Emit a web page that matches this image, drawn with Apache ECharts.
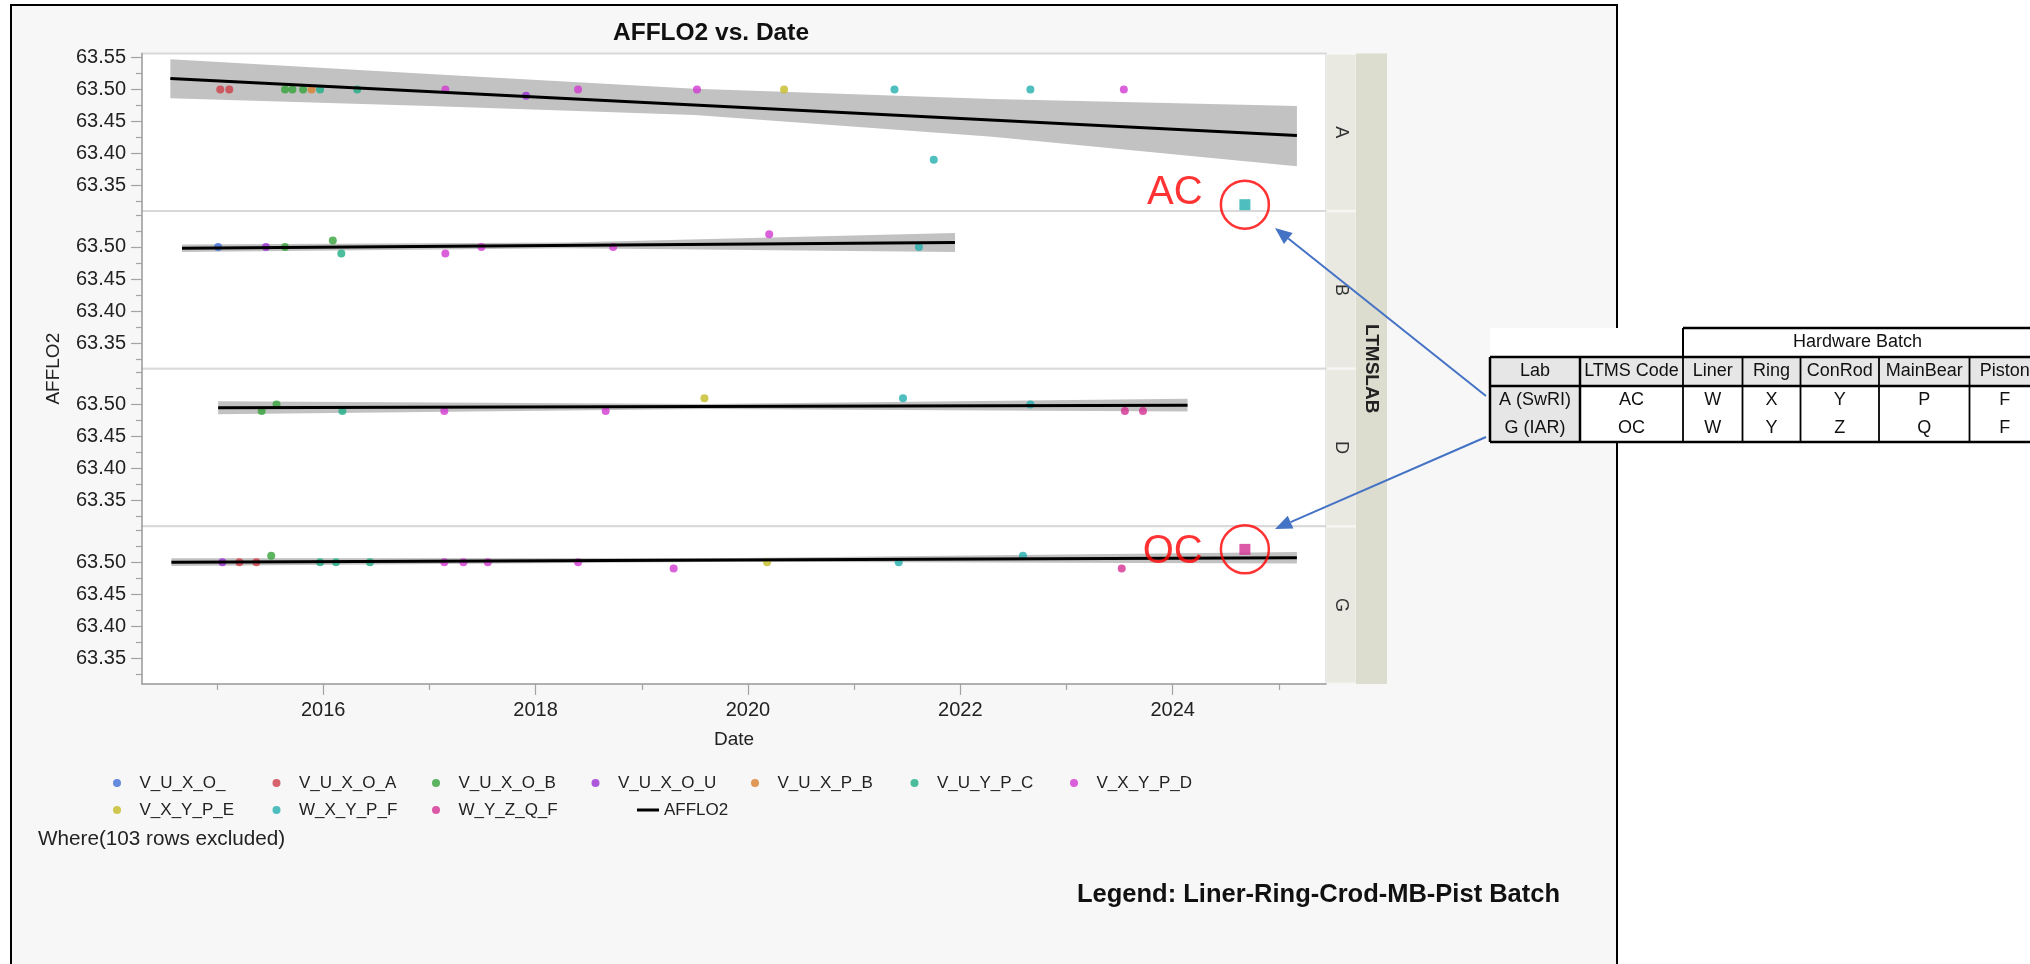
<!DOCTYPE html>
<html>
<head>
<meta charset="utf-8">
<title>AFFLO2 vs. Date</title>
<script src="https://cdn.jsdelivr.net/npm/echarts@6.0.0/dist/echarts.min.js"></script>
<style>
  html, body { margin: 0; padding: 0; background: #fff; }
  #chart { width: 2030px; height: 964px; }
</style>
</head>
<body>
<div id="chart"></div>
<script>
// ---- values ----
const labs = ['A', 'B', 'D', 'G'];
const batches = ['V_U_X_O_', 'V_U_X_O_A', 'V_U_X_O_B', 'V_U_X_O_U', 'V_U_X_P_B',
  'V_U_Y_P_C', 'V_X_Y_P_D', 'V_X_Y_P_E', 'W_X_Y_P_F', 'W_Y_Z_Q_F'];
const yearTicks = [2016, 2018, 2020, 2022, 2024];
const yearMinorTicks = [2015, 2017, 2019, 2021, 2023, 2025];
const valueTicks = [63.35, 63.40, 63.45, 63.50];
const valueTicksTop = [63.35, 63.40, 63.45, 63.50, 63.55];
const valueMinorTicks = [63.325, 63.375, 63.425, 63.475, 63.525, 63.55];

// [batch, date (decimal year), AFFLO2]
const pointsA = [
  ['V_U_X_O_A', 2015.03, 63.50], ['V_U_X_O_A', 2015.115, 63.50],
  ['V_U_X_O_B', 2015.64, 63.50], ['V_U_X_O_B', 2015.71, 63.50], ['V_U_X_O_B', 2015.81, 63.50],
  ['V_U_X_P_B', 2015.89, 63.50],
  ['V_U_Y_P_C', 2015.97, 63.50], ['V_U_Y_P_C', 2016.32, 63.50],
  ['V_X_Y_P_D', 2017.15, 63.50], ['V_U_X_O_U', 2017.91, 63.49], ['V_X_Y_P_D', 2018.40, 63.50],
  ['V_X_Y_P_D', 2019.52, 63.50], ['V_X_Y_P_E', 2020.34, 63.50],
  ['W_X_Y_P_F', 2021.38, 63.50], ['W_X_Y_P_F', 2021.75, 63.39], ['W_X_Y_P_F', 2022.66, 63.50],
  ['V_X_Y_P_D', 2023.54, 63.50]
];
const pointsB = [
  ['V_U_X_O_', 2015.01, 63.50], ['V_U_X_O_U', 2015.46, 63.50],
  ['V_U_X_O_B', 2015.64, 63.50], ['V_U_X_O_B', 2016.09, 63.51],
  ['V_U_Y_P_C', 2016.17, 63.49],
  ['V_X_Y_P_D', 2017.15, 63.49], ['V_X_Y_P_D', 2017.49, 63.50], ['V_X_Y_P_D', 2018.73, 63.50],
  ['V_X_Y_P_D', 2020.20, 63.52], ['W_X_Y_P_F', 2021.61, 63.50]
];
const pointsD = [
  ['V_U_X_O_B', 2015.42, 63.49], ['V_U_X_O_B', 2015.56, 63.50],
  ['V_U_Y_P_C', 2016.18, 63.49],
  ['V_X_Y_P_D', 2017.14, 63.49], ['V_X_Y_P_D', 2018.66, 63.49],
  ['V_X_Y_P_E', 2019.59, 63.51],
  ['W_X_Y_P_F', 2021.46, 63.51], ['W_X_Y_P_F', 2022.66, 63.50],
  ['W_Y_Z_Q_F', 2023.55, 63.49], ['W_Y_Z_Q_F', 2023.72, 63.49]
];
const pointsG = [
  ['V_U_X_O_U', 2015.05, 63.50], ['V_U_X_O_A', 2015.21, 63.50], ['V_U_X_O_A', 2015.37, 63.50],
  ['V_U_X_O_B', 2015.51, 63.51],
  ['V_U_Y_P_C', 2015.97, 63.50], ['V_U_Y_P_C', 2016.12, 63.50], ['V_U_Y_P_C', 2016.44, 63.50],
  ['V_X_Y_P_D', 2017.14, 63.50], ['V_X_Y_P_D', 2017.32, 63.50], ['V_X_Y_P_D', 2017.55, 63.50],
  ['V_X_Y_P_D', 2018.40, 63.50], ['V_X_Y_P_D', 2019.30, 63.49],
  ['V_X_Y_P_E', 2020.18, 63.50],
  ['W_X_Y_P_F', 2021.42, 63.50], ['W_X_Y_P_F', 2022.59, 63.51],
  ['W_Y_Z_Q_F', 2023.52, 63.49]
];

// fitted AFFLO2 line per lab: [date, value]
const fitA = [[2014.56, 63.517], [2025.17, 63.428]];
const fitB = [[2014.67, 63.498], [2021.95, 63.507]];
const fitD = [[2015.01, 63.495], [2024.14, 63.499]];
const fitG = [[2014.57, 63.500], [2025.17, 63.507]];

// confidence band: [date, lower, upper]
const bandA = [[2014.56, 63.486, 63.547], [2017.0, 63.474, 63.524], [2019.5, 63.460, 63.501],
  [2022.3, 63.426, 63.485], [2025.17, 63.380, 63.474]];
const bandB = [[2014.67, 63.492, 63.504], [2018.3, 63.498, 63.507], [2021.95, 63.492, 63.522]];
const bandD = [[2015.01, 63.485, 63.505], [2019.6, 63.493, 63.501], [2024.14, 63.489, 63.509]];
const bandG = [[2014.57, 63.494, 63.506], [2019.9, 63.5005, 63.5065], [2025.17, 63.498, 63.516]];

// flagged new tests: [lab index, batch, date, value, LTMS code]
const flagged = [
  [0, 'W_X_Y_P_F', 2024.68, 63.32, 'AC'],
  [3, 'W_Y_Z_Q_F', 2024.68, 63.52, 'OC']
];

const tableHeader = ['Lab', 'LTMS Code', 'Liner', 'Ring', 'ConRod', 'MainBear', 'Piston'];
const tableRows = [
  ['A (SwRI)', 'AC', 'W', 'X', 'Y', 'P', 'F'],
  ['G (IAR)', 'OC', 'W', 'Y', 'Z', 'Q', 'F']
];

// ---- styles and layout ----
const batchColors = {
  'V_U_X_O_': '#3f6fd8', 'V_U_X_O_A': '#cf3f47', 'V_U_X_O_B': '#34a23b', 'V_U_X_O_U': '#9a2fd4',
  'V_U_X_P_B': '#d8802c', 'V_U_Y_P_C': '#1fae86', 'V_X_Y_P_D': '#d23ad2', 'V_X_Y_P_E': '#c4bb25',
  'W_X_Y_P_F': '#22aeae', 'W_Y_Z_Q_F': '#d32f92'
};
const FONT = "'Liberation Sans', Arial, sans-serif";
const plotLeft = 142, plotWidth = 1184, plotTop = 53.5, panelH = 157.6;
const dateMin = 2014.293, dateMax = 2025.444;
const valueMin = 63.31, valueMax = 63.556;

const panels = [pointsA, pointsB, pointsD, pointsG];
const fits = [fitA, fitB, fitD, fitG];
const bands = [bandA, bandB, bandD, bandG];

const grids = [], xAxes = [], yAxes = [], series = [];
labs.forEach((lab, i) => {
  const bottom = i === labs.length - 1;
  grids.push({
    left: plotLeft, width: plotWidth, top: plotTop + i * panelH, height: panelH,
    show: true, backgroundColor: '#fff', borderColor: '#d9d9d9', borderWidth: 2
  });
  xAxes.push({
    gridIndex: i, type: 'value', position: 'bottom', min: dateMin, max: dateMax,
    splitLine: { show: false },
    axisLine: { show: bottom, lineStyle: { color: '#a3a3a3', width: 1.5 } },
    axisTick: { show: bottom, length: 11, customValues: yearTicks, lineStyle: { color: '#a3a3a3', width: 1.2 } },
    axisLabel: {
      show: bottom, customValues: yearTicks, margin: 17, fontSize: 20, fontFamily: FONT, color: '#222',
      formatter: v => String(Math.round(v))
    }
  });
  const majors = i === 0 ? valueTicksTop : valueTicks;
  yAxes.push({
    gridIndex: i, type: 'value', position: 'left', min: valueMin, max: valueMax,
    splitLine: { show: false },
    axisLine: { show: true, lineStyle: { color: '#a3a3a3', width: 1.5 } },
    axisTick: { show: true, length: 11, customValues: majors, lineStyle: { color: '#a3a3a3', width: 1.2 } },
    axisLabel: {
      show: true, customValues: majors, margin: 16, fontSize: 20, fontFamily: FONT, color: '#222',
      formatter: v => v.toFixed(2)
    }
  });
});
// minor ticks
xAxes.push({
  gridIndex: 3, type: 'value', position: 'bottom', min: dateMin, max: dateMax,
  splitLine: { show: false }, axisLine: { show: false }, axisLabel: { show: false },
  axisTick: { show: true, length: 6, customValues: yearMinorTicks, lineStyle: { color: '#a3a3a3', width: 1.2 } }
});
labs.forEach((lab, i) => {
  yAxes.push({
    gridIndex: i, type: 'value', position: 'left', min: valueMin, max: valueMax,
    splitLine: { show: false }, axisLine: { show: false }, axisLabel: { show: false },
    axisTick: {
      show: true, length: 6, lineStyle: { color: '#a3a3a3', width: 1.2 },
      customValues: i === 0 ? valueMinorTicks.filter(v => v !== 63.55) : valueMinorTicks
    }
  });
});

panels.forEach((pts, i) => {
  const band = bands[i];
  series.push({
    type: 'custom', name: 'band', xAxisIndex: i, yAxisIndex: i, silent: true, z: 1,
    data: band,
    renderItem: function (params, api) {
      if (params.dataIndex !== 0) return null;
      const upper = band.map(b => api.coord([b[0], b[2]]));
      const lower = band.map(b => api.coord([b[0], b[1]])).reverse();
      return { type: 'polygon', shape: { points: upper.concat(lower) }, style: { fill: '#c2c2c2' } };
    }
  });
  batches.forEach(b => {
    const d = pts.filter(p => p[0] === b).map(p => [p[1], p[2]]);
    if (!d.length) return;
    series.push({
      type: 'scatter', name: b, xAxisIndex: i, yAxisIndex: i, data: d, symbolSize: 8,
      itemStyle: { color: batchColors[b] }, z: 2, emphasis: { disabled: true }
    });
  });
  series.push({
    type: 'line', name: 'AFFLO2', xAxisIndex: i, yAxisIndex: i, data: fits[i],
    symbol: 'none', showSymbol: false, silent: true, z: 3,
    lineStyle: { color: '#000', width: 3 }, itemStyle: { color: '#000' }
  });
});

flagged.forEach(f => {
  series.push({
    type: 'scatter', name: f[1], xAxisIndex: f[0], yAxisIndex: f[0], data: [[f[2], f[3]]],
    symbol: 'rect', symbolSize: 11, itemStyle: { color: batchColors[f[1]] }, z: 4,
    emphasis: { disabled: true }
  });
  series.push({
    type: 'scatter', name: 'flag', xAxisIndex: f[0], yAxisIndex: f[0], data: [[f[2], f[3]]],
    symbol: 'circle', symbolSize: 48, silent: true, z: 5,
    itemStyle: { color: 'rgba(0,0,0,0)', borderColor: '#ff0000', borderWidth: 2.5 },
    label: {
      show: true, position: 'left', distance: 17, formatter: f[4], color: '#ff0000',
      fontSize: 40, fontFamily: FONT, offset: [0, f[4] === 'AC' ? -12 : 3]
    }
  });
});

// ---- graphic: frame, titles, strips, table, arrows ----
const g = [];
g.push({ type: 'rect', z: -10, shape: { x: 11, y: 5, width: 1606, height: 975 },
  style: { fill: '#f7f7f7', stroke: '#000', lineWidth: 2 } });
g.push({ type: 'text', x: 711, y: 33, z: 10, style: { text: 'AFFLO2 vs. Date', fontSize: 24.5,
  fontWeight: 'bold', fontFamily: FONT, fill: '#111', align: 'center', verticalAlign: 'middle' } });
g.push({ type: 'text', x: 734, y: 740, z: 10, style: { text: 'Date', fontSize: 19, fontFamily: FONT,
  fill: '#222', align: 'center', verticalAlign: 'middle' } });
g.push({ type: 'text', x: 54, y: plotTop + panelH * 2, rotation: Math.PI / 2, z: 10, style: { text: 'AFFLO2',
  fontSize: 19, fontFamily: FONT, fill: '#222', align: 'center', verticalAlign: 'middle' } });
g.push({ type: 'text', x: 38, y: 839, z: 10, style: { text: 'Where(103 rows excluded)', fontSize: 20.7,
  fontFamily: FONT, fill: '#222', align: 'left', verticalAlign: 'middle' } });
g.push({ type: 'text', x: 1077, y: 895, z: 10, style: { text: 'Legend: Liner-Ring-Crod-MB-Pist Batch',
  fontSize: 25.5, fontWeight: 'bold', fontFamily: FONT, fill: '#111', align: 'left', verticalAlign: 'middle' } });

const stripX = plotLeft + plotWidth;
labs.forEach((lab, i) => {
  const top = plotTop + i * panelH;
  g.push({ type: 'rect', z: 10, shape: { x: stripX, y: top + 1, width: 30, height: panelH - 2 },
    style: { fill: '#e9e9e2', stroke: '#f3f3ee', lineWidth: 1 } });
  g.push({ type: 'text', x: stripX + 15, y: top + panelH / 2, rotation: -Math.PI / 2, z: 11,
    style: { text: lab, fontSize: 18, fontFamily: FONT, fill: '#333', align: 'center', verticalAlign: 'middle' } });
});
g.push({ type: 'rect', z: 10, shape: { x: stripX + 30, y: plotTop, width: 31, height: panelH * 4 },
  style: { fill: '#dcdccf' } });
g.push({ type: 'text', x: stripX + 45.5, y: plotTop + panelH * 2, rotation: -Math.PI / 2, z: 11,
  style: { text: 'LTMSLAB', fontSize: 19, fontWeight: 'bold', fontFamily: FONT, fill: '#222',
    align: 'center', verticalAlign: 'middle' } });

// table
const colX = [1490, 1580, 1683, 1742.5, 1800.5, 1879, 1969.5, 2040];
const rowY = [328, 357, 386, 414, 442];
const tf = { fontSize: 18, fontFamily: FONT, fill: '#111', align: 'center', verticalAlign: 'middle' };
g.push({ type: 'rect', z: 20, shape: { x: colX[0], y: rowY[0], width: colX[7] - colX[0], height: rowY[4] - rowY[0] },
  style: { fill: '#fff' } });
g.push({ type: 'rect', z: 20, shape: { x: colX[0], y: rowY[1], width: colX[7] - colX[0], height: rowY[2] - rowY[1] },
  style: { fill: '#e6e6e6' } });
g.push({ type: 'rect', z: 20, shape: { x: colX[0], y: rowY[2], width: colX[1] - colX[0], height: rowY[4] - rowY[2] },
  style: { fill: '#e6e6e6' } });
const tl = (x1, y1, x2, y2, w) => g.push({ type: 'line', z: 21, shape: { x1, y1, x2, y2 },
  style: { stroke: '#000', lineWidth: w } });
tl(colX[2], rowY[0], colX[7], rowY[0], 2.5);
tl(colX[2], rowY[0], colX[2], rowY[1], 2);
tl(colX[0], rowY[1], colX[7], rowY[1], 2.5);
tl(colX[0], rowY[2], colX[7], rowY[2], 2.5);
tl(colX[0], rowY[4], colX[7], rowY[4], 2.5);
colX.slice(0, 7).forEach((x, k) => tl(x, rowY[1], x, rowY[4], k < 2 ? 2.5 : 1.8));
g.push({ type: 'text', x: (colX[2] + colX[7]) / 2 - 4, y: (rowY[0] + rowY[1]) / 2, z: 22,
  style: Object.assign({ text: 'Hardware Batch' }, tf) });
tableHeader.forEach((h, k) => g.push({ type: 'text', x: (colX[k] + colX[k + 1]) / 2, y: (rowY[1] + rowY[2]) / 2,
  z: 22, style: Object.assign({ text: h }, tf) }));
tableRows.forEach((row, r) => row.forEach((c, k) => g.push({ type: 'text', x: (colX[k] + colX[k + 1]) / 2,
  y: (rowY[2 + r] + rowY[3 + r]) / 2, z: 22, style: Object.assign({ text: c }, tf) })));

// arrows from table rows to the flagged points
[[1486, 396, 1275, 228], [1486, 437, 1275, 529]].forEach(a => {
  const ang = Math.atan2(a[3] - a[1], a[2] - a[0]);
  const L = 17, W = 7;
  const bx = a[2] - L * Math.cos(ang), by = a[3] - L * Math.sin(ang);
  g.push({ type: 'line', z: 25, shape: { x1: a[0], y1: a[1], x2: bx, y2: by },
    style: { stroke: '#4472c4', lineWidth: 2 } });
  g.push({ type: 'polygon', z: 25, shape: { points: [[a[2], a[3]],
    [bx - W * Math.sin(ang), by + W * Math.cos(ang)], [bx + W * Math.sin(ang), by - W * Math.cos(ang)]] },
    style: { fill: '#4472c4' } });
});

const legendBase = {
  orient: 'horizontal', left: 108, itemWidth: 35, itemHeight: 8, itemGap: 20, icon: 'circle',
  selectedMode: false, textStyle: { fontSize: 17, fontFamily: FONT, color: '#222', width: 113, lineHeight: 20 }
};

const chart = echarts.init(document.getElementById('chart'));
chart.setOption({
  animation: false,
  backgroundColor: 'transparent',
  textStyle: { fontFamily: FONT },
  grid: grids,
  xAxis: xAxes,
  yAxis: yAxes,
  legend: [
    Object.assign({}, legendBase, { top: 768, data: batches.slice(0, 7) }),
    Object.assign({}, legendBase, { top: 795, data: batches.slice(7) }),
    { orient: 'horizontal', left: 632, top: 795, itemWidth: 22, itemHeight: 3, selectedMode: false,
      data: [{ name: 'AFFLO2', icon: 'rect', itemStyle: { color: '#000' } }],
      textStyle: { fontSize: 17, fontFamily: FONT, color: '#222', lineHeight: 20 } }
  ],
  graphic: { elements: g },
  series: series
});
</script>
</body>
</html>
